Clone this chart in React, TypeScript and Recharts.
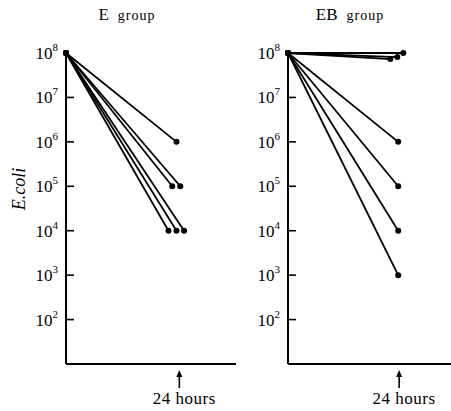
import React from 'react';
import { LineChart, Line, XAxis, YAxis } from 'recharts';

// hours after start / E. coli counts
const startHour = 0;
const startCount = 1e8;

const eEndHours = [23.4, 22.5, 24.2, 21.7, 23.4, 25.0];
const eEndCounts = [1e6, 1e5, 1e5, 1e4, 1e4, 1e4];

const ebEndHours = [24.9, 23.6, 22.1, 23.8, 23.8, 23.8, 23.8];
const ebEndCounts = [1e8, 8.1e7, 7.3e7, 1e6, 1e5, 1e4, 1e3];

const yTicks = [1e2, 1e3, 1e4, 1e5, 1e6, 1e7, 1e8];
const xTicks = [24];
const xTickLabel = '24 hours';

const FONT = "'Liberation Serif', 'Times New Roman', serif";

const makeSeries = (hours: number[], counts: number[]) =>
  hours.map((h, i) => [
    { h: startHour, n: startCount },
    { h, n: counts[i] },
  ]);

const YTick = (props: any) => {
  const { x, y, payload } = props;
  const exp = Math.round(Math.log10(payload.value));
  return (
    <g>
      {exp < 8 && <line x1={x} x2={x + 8} y1={y} y2={y} stroke="#000" strokeWidth={1.6} />}
      <text x={x - 8} y={y + 6} textAnchor="end" fontFamily={FONT} fontSize={17} fill="#000">
        10<tspan dy={-8} fontSize={11}>{exp}</tspan>
      </text>
    </g>
  );
};

const XTick = (props: any) => {
  const { x, y } = props;
  return (
    <g>
      <line x1={x} x2={x} y1={y + 10} y2={y + 24} stroke="#000" strokeWidth={1.6} />
      <polygon points={`${x},${y + 6} ${x - 3},${y + 13} ${x + 3},${y + 13}`} fill="#000" />
      <text x={x + 5} y={y + 40} textAnchor="middle" fontFamily={FONT} fontSize={17}
        letterSpacing={0.5} fill="#000">
        {xTickLabel}
      </text>
    </g>
  );
};

const Panel = ({ title, titleX, width, axisWidth, xMax, series }: any) => (
  <div style={{ position: 'relative', width, height: 411 }}>
    <div
      style={{
        position: 'absolute', top: 5, left: titleX, transform: 'translateX(-50%)',
        fontFamily: FONT, whiteSpace: 'nowrap', color: '#000',
      }}
    >
      <span style={{ fontSize: 17 }}>{title}</span>
      <span style={{ fontSize: 14, letterSpacing: 1 }}>&nbsp; group</span>
    </div>
    <LineChart width={width} height={411} margin={{ top: 53, right: 0, bottom: 0, left: 0 }}>
      <XAxis
        type="number" dataKey="h" domain={[0, xMax]} ticks={xTicks}
        axisLine={{ stroke: '#000', strokeWidth: 2 }} tickLine={false}
        tickSize={0} tickMargin={0} tick={<XTick />} height={47} allowDuplicatedCategory={false}
      />
      <YAxis
        type="number" dataKey="n" scale="log" domain={[10, 1e8]} ticks={yTicks}
        width={axisWidth} axisLine={{ stroke: '#000', strokeWidth: 2 }} tickLine={false}
        tickSize={0} tickMargin={0} tick={<YTick />} interval={0}
      />
      {series.map((d: any, i: number) => (
        <Line
          key={i} data={d} dataKey="n" type="linear" stroke="#000" strokeWidth={1.8}
          dot={{ r: 3, fill: '#000', stroke: '#000', strokeWidth: 0 }}
          isAnimationActive={false}
        />
      ))}
    </LineChart>
  </div>
);

export default function App() {
  return (
    <div style={{ position: 'relative', width: 451, height: 411, background: '#fff' }}>
      <style>{'body{margin:0}'}</style>
      <div style={{ display: 'flex' }}>
        <Panel title="E" titleX={127} width={236} axisWidth={66} xMax={36}
          series={makeSeries(eEndHours, eEndCounts)} />
        <Panel title="EB" titleX={114} width={215} axisWidth={52} xMax={35.2}
          series={makeSeries(ebEndHours, ebEndCounts)} />
      </div>
      <svg width={40} height={411} style={{ position: 'absolute', left: 0, top: 0 }}>
        <text x={25} y={189} transform="rotate(-90 25 189)" textAnchor="middle"
          fontFamily={FONT} fontStyle="italic" fontSize={18} fill="#000">
          E.coli
        </text>
      </svg>
    </div>
  );
}
